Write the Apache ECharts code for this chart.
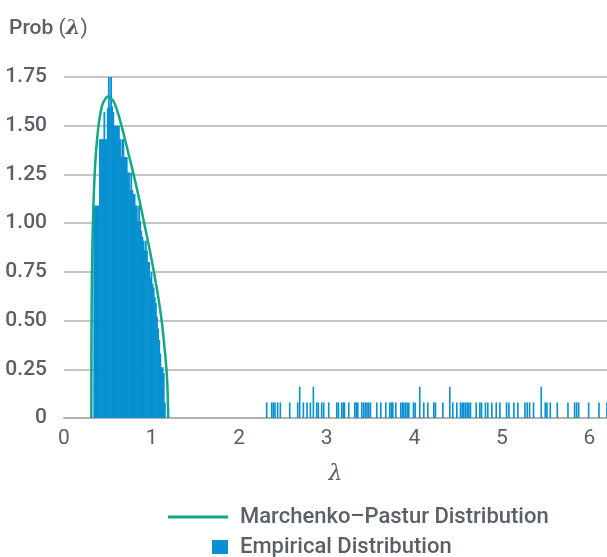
<!DOCTYPE html>
<html>
<head>
<meta charset="utf-8">
<script src="https://cdn.jsdelivr.net/npm/echarts@6/dist/echarts.min.js"></script>
<style>html,body{margin:0;padding:0;background:#fff}#c{width:607px;height:557px}</style>
</head>
<body>
<div id="c"></div>
<script>
// ---- data ----
const xTicks = [0, 1, 2, 3, 4, 5, 6];
const yTicks = [0, 0.25, 0.5, 0.75, 1.0, 1.25, 1.5, 1.75];
const clusterStart = 0.335;
const binWidth = 0.0128;
const clusterDensity = [
  1.09, 1.09, 1.09, 1.09, 1.09, 1.43, 1.43, 1.43, 1.43, 1.57,
  1.43, 1.43, 1.59, 1.75, 1.60, 1.75, 1.60, 1.57, 1.50, 1.50,
  1.50, 1.50, 1.50, 1.43, 1.34, 1.43, 1.43, 1.34, 1.34, 1.34,
  1.26, 1.26, 1.17, 1.26, 1.17, 1.15, 1.15, 1.09, 1.09, 1.01,
  1.09, 1.01, 0.96, 0.93, 0.91, 0.86, 0.91, 0.86, 0.80, 0.80,
  0.72, 0.75, 0.69, 0.67, 0.62, 0.59, 0.52, 0.46, 0.40, 0.33,
  0.26, 0.26, 0.23, 0.08
];
const outlierLambda = [
  2.305, 2.362, 2.381, 2.400, 2.430, 2.461, 2.568, 2.659, 2.682, 2.724,
  2.766, 2.804, 2.838, 2.876, 2.895, 2.933, 2.956, 3.013, 3.105, 3.124,
  3.162, 3.181, 3.193, 3.242, 3.311, 3.330, 3.345, 3.391, 3.413, 3.432,
  3.451, 3.470, 3.490, 3.562, 3.608, 3.665, 3.711, 3.730, 3.745, 3.779,
  3.836, 3.855, 3.871, 3.890, 3.909, 3.928, 3.981, 4.000, 4.053, 4.099,
  4.145, 4.213, 4.232, 4.316, 4.396, 4.430, 4.476, 4.518, 4.537, 4.556,
  4.575, 4.594, 4.613, 4.632, 4.697, 4.739, 4.758, 4.803, 4.830, 4.876,
  4.926, 4.968, 5.044, 5.071, 5.128, 5.173, 5.254, 5.280, 5.307, 5.352,
  5.440, 5.486, 5.505, 5.543, 5.623, 5.745, 5.821, 5.844, 5.867, 5.981,
  6.099, 6.190
];
const outlierDensity = [
  0.08, 0.08, 0.08, 0.08, 0.08, 0.08, 0.08, 0.08, 0.16, 0.08,
  0.08, 0.08, 0.16, 0.08, 0.08, 0.08, 0.08, 0.08, 0.08, 0.08,
  0.08, 0.08, 0.08, 0.08, 0.08, 0.08, 0.08, 0.08, 0.08, 0.08,
  0.08, 0.08, 0.08, 0.08, 0.08, 0.08, 0.08, 0.08, 0.08, 0.08,
  0.08, 0.08, 0.08, 0.08, 0.08, 0.08, 0.08, 0.08, 0.16, 0.08,
  0.08, 0.08, 0.08, 0.08, 0.16, 0.08, 0.08, 0.08, 0.08, 0.08,
  0.08, 0.08, 0.08, 0.08, 0.08, 0.08, 0.08, 0.08, 0.08, 0.08,
  0.08, 0.08, 0.08, 0.08, 0.08, 0.08, 0.08, 0.08, 0.08, 0.08,
  0.16, 0.08, 0.08, 0.08, 0.08, 0.08, 0.08, 0.08, 0.08, 0.08,
  0.08, 0.08
];
const curveLambda = [
  0.312, 0.314, 0.318, 0.325, 0.335, 0.35, 0.37, 0.40, 0.44, 0.50,
  0.56, 0.62, 0.68, 0.74, 0.80, 0.86, 0.92, 0.98, 1.03, 1.08,
  1.12, 1.15, 1.17, 1.18, 1.185, 1.19
];
const curveDensity = [
  0.00, 0.40, 0.70, 0.90, 1.08, 1.25, 1.39, 1.52, 1.61, 1.65,
  1.63, 1.56, 1.46, 1.35, 1.24, 1.12, 0.99, 0.86, 0.74, 0.61,
  0.48, 0.35, 0.25, 0.17, 0.11, 0.00
];
const seriesNames = ['Marchenko–Pastur Distribution', 'Empirical Distribution'];

// ---- build ----
const BLUE = '#0890d0';
const GREEN = '#11a887';
const TXT = '#5b6067';
const GRID = '#b7b0ab';
const FONT = 'Roboto, "Noto Sans", sans-serif';
const FS = 21;

const clusterData = clusterDensity.map((d, i) => {
  const x0 = clusterStart + i * binWidth;
  return [x0, x0 + binWidth, d];
});
const outlierData = outlierLambda.map((x, i) => [x, x + binWidth, outlierDensity[i]]);
const curveData = curveLambda.map((x, i) => [x, curveDensity[i]]);

function rectItem(extra) {
  return function (params, api) {
    const p0 = api.coord([api.value(0), api.value(2)]);
    const p1 = api.coord([api.value(1), 0]);
    return {
      type: 'rect',
      shape: { x: p0[0], y: p0[1], width: (p1[0] - p0[0]) + extra, height: p1[1] - p0[1] },
      style: { fill: BLUE }
    };
  };
}

const chart = echarts.init(document.getElementById('c'), null, { renderer: 'canvas' });
chart.setOption({
  animation: false,
  backgroundColor: '#ffffff',
  title: {
    text: '{a|Prob }{b|(}{c|λ}{b|)}',
    left: 9, top: 18, padding: 0,
    textStyle: {
      rich: {
        a: { fontFamily: FONT, fontSize: FS, fontWeight: 500, color: TXT },
        b: { fontFamily: FONT, fontSize: FS, fontWeight: 400, color: TXT },
        c: { fontFamily: '"DejaVu Serif", serif', fontStyle: 'italic', fontSize: FS, color: TXT }
      }
    }
  },
  legend: [
    {
      data: [{ name: seriesNames[0], icon: 'rect' }],
      left: 168, top: 506, padding: 0,
      itemWidth: 60, itemHeight: 3,
      textStyle: { fontFamily: FONT, fontSize: 22, fontWeight: 500, color: TXT, padding: [0, 0, 0, 7] },
      selectedMode: false
    },
    {
      data: [{ name: seriesNames[1], icon: 'rect' }],
      left: 212, top: 536, padding: 0,
      itemWidth: 16, itemHeight: 14,
      textStyle: { fontFamily: FONT, fontSize: 22, fontWeight: 500, color: TXT, padding: [0, 0, 0, 7] },
      selectedMode: false
    }
  ],
  grid: { left: 64, right: 0, top: 77, bottom: 139, containLabel: false },
  xAxis: {
    type: 'value',
    min: xTicks[0], max: 6.2, interval: 1,
    name: 'λ', nameLocation: 'middle', nameGap: 45,
    nameTextStyle: { fontFamily: '"DejaVu Serif", serif', fontStyle: 'italic', fontSize: 22, color: TXT },
    axisLine: { show: true, lineStyle: { color: GRID, width: 2 } },
    axisTick: { show: false },
    splitLine: { show: false },
    axisLabel: {
      showMaxLabel: false, margin: 10,
      fontFamily: FONT, fontSize: FS, color: TXT,
      formatter: v => (xTicks.indexOf(v) >= 0 ? String(v) : '')
    }
  },
  yAxis: {
    type: 'value',
    min: yTicks[0], max: yTicks[yTicks.length - 1], interval: 0.25,
    axisLine: { show: false },
    axisTick: { show: false },
    splitLine: { show: true, lineStyle: { color: GRID, width: 1.5 } },
    axisLabel: {
      margin: 17, fontFamily: FONT, fontSize: FS, fontWeight: 500, color: TXT,
      formatter: v => (v === 0 ? '0' : v.toFixed(2))
    }
  },
  series: [
    {
      name: seriesNames[1], type: 'custom', z: 3,
      itemStyle: { color: BLUE },
      encode: { x: [0, 1], y: 2 },
      renderItem: rectItem(0.7),
      data: clusterData
    },
    {
      name: seriesNames[1], type: 'custom', z: 3,
      itemStyle: { color: BLUE },
      encode: { x: [0, 1], y: 2 },
      renderItem: rectItem(0.5),
      data: outlierData
    },
    {
      name: seriesNames[0], type: 'line', z: 5,
      symbol: 'none', smooth: 0.25,
      lineStyle: { color: GREEN, width: 2.5 },
      itemStyle: { color: GREEN },
      data: curveData
    }
  ]
});
</script>
</body>
</html>
